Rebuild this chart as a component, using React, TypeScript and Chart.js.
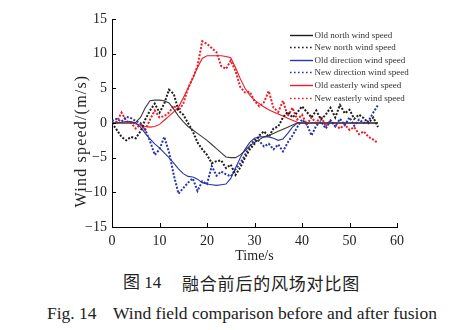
import React, { useEffect, useRef } from "react";
import { Chart, registerables } from "chart.js";

Chart.register(...registerables);

// ---- data ----
const times = [
  0, 1, 2, 3, 4, 5, 6, 7, 8, 9, 10, 11, 12, 13, 14, 15, 16, 17, 18, 19,
  20, 21, 22, 23, 24, 25, 26, 27, 28, 29, 30, 31, 32, 33, 34, 35, 36, 37, 38, 39,
  40, 41, 42, 43, 44, 45, 46, 47, 48, 49, 50, 51, 52, 53, 54, 55, 56,
];

const oldNorth = [
  0, 0, 0, 0, 0, 0.1, 0.8, 2.2, 3.2, 3.3,
  3.3, 3.2, 2.9, 2.0, 1.0, 0.2, -0.5, -1.0, -1.5, -2.0,
  -2.5, -3.1, -3.7, -4.3, -4.9, -5.0, -5.0, -4.6, -4.0, -3.3,
  -2.8, -2.4, -2.0, -1.8, -1.5, -1.2, -0.9, -0.6, -0.3, 0,
  0, 0, 0, 0, 0, 0, 0, 0, 0, 0,
  0, 0, 0, 0, 0, 0, 0,
];

const newNorth = [
  0, -1.0, -2.0, -2.5, -2.0, -2.2, -1.2, 0.5, 1.8, 2.8,
  1.5, 2.8, 4.8, 4.2, 1.8, 1.2, 0.0, -1.2, -2.8, -3.8,
  -4.6, -5.8, -5.5, -5.4, -6.5, -6.0, -7.5, -6.4, -5.0, -3.8,
  -3.0, -1.8, -1.2, -2.0, -0.8, -0.5, 0.8, 1.6, 0.8, 1.5,
  2.4, 1.6, 0.8, 1.8, 0.5, 1.2, 2.2, 0.8, 2.6, 1.4,
  1.9, 0.6, 1.2, 0.7, 0.0, 0.8, -0.6,
];

const oldDirection = [
  0, 0, 0.1, 0.2, 0.2, 0, -0.6, -1.5, -2.3, -3.0,
  -3.6, -4.3, -5.0, -5.8, -6.6, -7.3, -7.7, -7.8, -8.1, -8.6,
  -8.8, -8.9, -9.0, -8.9, -8.8, -8.0, -6.5, -5.0, -3.8, -2.8,
  -2.2, -2.0, -2.0, -2.0, -2.2, -2.5, -2.3, -1.5, -0.6, 0,
  0, 0, 0, 0, 0, 0, 0, 0, 0, 0,
  0, 0, 0, 0, 0, 0, 0,
];

const newDirection = [
  0.3, 0.6, 0.2, 0.9, 0.7, 0.3, 0.0, -1.0, -2.6, -4.6,
  -3.8, -2.0, -4.2, -7.5, -10.2, -9.4, -8.6, -8.0, -9.8, -8.4,
  -8.8, -6.2, -7.6, -7.0, -7.4, -7.7, -6.7, -5.8, -4.6, -3.4,
  -2.4, -2.6, -3.4, -3.0, -3.8, -3.1, -4.1, -2.8, -1.8, -0.6,
  0.5, -0.2, -1.8, -0.4, 0.2, -0.8, 0.3, -0.5, 0.6, -0.3,
  0.8, -0.4, 0.5, 0.0, 0.3, 1.5, 2.6,
];

const oldEasterly = [
  0, 0, 0, 0, 0, -0.1, -0.3, -0.5, -0.6, -0.5,
  -0.2, 0.4, 1.0, 1.6, 2.3, 3.6, 5.0, 6.4, 8.0, 9.3,
  9.7, 9.7, 9.7, 9.7, 9.6, 9.4, 8.0, 6.4, 5.0, 4.0,
  3.3, 2.8, 2.3, 1.9, 1.6, 1.3, 1.0, 0.7, 0.4, 0.1,
  0, 0, 0, 0, 0, 0, 0, 0, 0, 0,
  0, 0, 0, 0, 0, 0, 0,
];

const newEasterly = [
  0, 0.2, 1.5, 0.3, 0.0, -0.8, -0.2, -1.0, 0.5, 1.8,
  0.8, 1.0, 1.5, 2.5, 1.8, 2.8, 5.0, 6.5, 8.2, 11.8,
  11.4, 10.8, 10.2, 8.2, 7.8, 9.0, 7.5, 5.2, 4.4, 4.5,
  3.2, 2.4, 3.0, 4.6, 2.2, 1.6, 3.2, 1.0, 2.2, 0.5,
  1.2, -0.2, 0.8, 0.0, 1.0, -0.5, 0.4, -0.3, -0.8, -0.2,
  -1.0, -0.6, -1.6, -1.2, -2.0, -2.4, -2.9,
];

const seriesLabels = [
  "Old north wind speed",
  "New north wind speed",
  "Old direction wind speed",
  "New direction wind speed",
  "Old easterly wind speed",
  "New easterly wind speed",
];

const xTicks = [0, 10, 20, 30, 40, 50, 60];
const yTicks = [-15, -10, -5, 0, 5, 10, 15];
const xTitle = "Time/s";
const yTitle = "Wind speed/(m/s)";
const captionZhNo = "图 14";
const captionZh = "融合前后的风场对比图";
const captionEnNo = "Fig. 14";
const captionEn = "Wind field comparison before and after fusion";

// ---- styles ----
const BLACK = "#1c1c1c";
const BLUE = "#2a36a6";
const RED = "#ee1a26";
const SERIF = '"Liberation Serif", "Times New Roman", serif';
const DOT = [2, 1.6];

const seriesValues = [oldNorth, newNorth, oldDirection, newDirection, oldEasterly, newEasterly];
const seriesColors = ["#3a3a3a", BLACK, BLUE, BLUE, RED, RED];
const seriesDashed = [false, true, false, true, false, true];

const decorPlugin = {
  id: "decor",
  afterDraw(chart: any) {
    const { ctx, chartArea, scales } = chart;
    const xs = scales.x;
    const ys = scales.y;
    ctx.save();
    // inward tick marks
    ctx.strokeStyle = "#000";
    ctx.lineWidth = 1;
    xTicks.forEach((v) => {
      const px = Math.round(xs.getPixelForValue(v)) + 0.5;
      ctx.beginPath();
      ctx.moveTo(px, chartArea.bottom);
      ctx.lineTo(px, chartArea.bottom - 4);
      ctx.stroke();
    });
    yTicks.forEach((v) => {
      const py = Math.round(ys.getPixelForValue(v)) + 0.5;
      ctx.beginPath();
      ctx.moveTo(chartArea.left, py);
      ctx.lineTo(chartArea.left + 4, py);
      ctx.stroke();
    });

    // y axis title
    ctx.save();
    ctx.translate(82, 141);
    ctx.rotate(-Math.PI / 2);
    ctx.font = `16px ${SERIF}`;
    try {
      (ctx as any).letterSpacing = "1.2px";
    } catch (e) {}
    ctx.fillStyle = "#222";
    ctx.textAlign = "center";
    ctx.textBaseline = "middle";
    ctx.fillText(yTitle, 0, 0);
    ctx.restore();

    // legend
    const lx0 = 290;
    const lx1 = 313;
    const ty0 = 34.5;
    const dy = 12.6;
    ctx.font = `9px ${SERIF}`;
    ctx.textAlign = "left";
    ctx.textBaseline = "middle";
    seriesLabels.forEach((lab, i) => {
      const y = Math.round(ty0 + i * dy) + 0.5;
      ctx.strokeStyle = i === 0 ? BLACK : seriesColors[i];
      ctx.lineWidth = seriesDashed[i] ? 1.6 : 1.4;
      ctx.setLineDash(seriesDashed[i] ? [1.6, 2.4] : []);
      ctx.beginPath();
      ctx.moveTo(lx0, y);
      ctx.lineTo(lx1, y);
      ctx.stroke();
      ctx.setLineDash([]);
      ctx.fillStyle = "#333";
      ctx.fillText(lab, lx1 + 1.5, y);
    });
    ctx.restore();
  },
};

function ChartCanvas() {
  const ref = useRef<HTMLCanvasElement | null>(null);
  useEffect(() => {
    if (!ref.current) return;
    const datasets = seriesLabels.map((label, i) => ({
      label,
      data: times.map((t, k) => ({ x: t, y: seriesValues[i][k] })),
      borderColor: seriesColors[i],
      backgroundColor: seriesColors[i],
      borderWidth: seriesDashed[i] ? 2 : 1.1,
      borderDash: seriesDashed[i] ? DOT : [],
      pointRadius: 0,
      tension: 0,
      fill: false,
    }));
    const chart = new Chart(ref.current, {
      type: "line",
      data: { datasets },
      options: {
        animation: false,
        responsive: false,
        devicePixelRatio: 1,
        layout: { padding: { left: 0, right: 56, top: 19, bottom: 0 } },
        plugins: { legend: { display: false }, tooltip: { enabled: false } },
        scales: {
          x: {
            type: "linear",
            min: 0,
            max: 60,
            ticks: {
              stepSize: 10,
              padding: 6,
              color: "#222",
              font: { family: SERIF, size: 14 },
            },
            grid: { display: false, drawTicks: false },
            border: { display: true, color: "#000", width: 1 },
            title: {
              display: true,
              text: xTitle,
              color: "#222",
              font: { family: SERIF, size: 14 },
              padding: { top: 0, bottom: 5 },
            },
            afterFit: (s: any) => {
              s.height = 43;
            },
          },
          y: {
            type: "linear",
            min: -15,
            max: 15,
            ticks: {
              stepSize: 5,
              padding: 5,
              color: "#222",
              font: { family: SERIF, size: 14 },
              callback: (v: any) => (Number(v) < 0 ? "\u2212" + Math.abs(Number(v)) : String(v)),
            },
            grid: { display: false, drawTicks: false },
            border: { display: true, color: "#000", width: 1 },
            afterFit: (s: any) => {
              s.width = 112;
            },
          },
        },
      },
      plugins: [decorPlugin],
    });
    return () => chart.destroy();
  }, []);
  return (
    <canvas
      ref={ref}
      width={453}
      height={270}
      style={{ position: "absolute", left: 0, top: 0, width: 453, height: 270 }}
    />
  );
}

export default function App() {
  const zh: React.CSSProperties = {
    position: "absolute",
    top: 273,
    lineHeight: "20px",
    fontSize: 17,
    color: "#222",
    whiteSpace: "pre",
    fontFamily: `"Liberation Serif", "Noto Sans CJK SC", serif`,
  };
  const en: React.CSSProperties = {
    position: "absolute",
    top: 302,
    lineHeight: "22px",
    fontSize: 17.5,
    color: "#222",
    whiteSpace: "pre",
    fontFamily: SERIF,
  };
  return (
    <div
      style={{
        position: "absolute",
        left: 0,
        top: 0,
        width: 453,
        height: 330,
        background: "#fff",
        overflow: "hidden",
      }}
    >
      <ChartCanvas />
      <div style={{ ...zh, left: 123 }}>{captionZhNo}</div>
      <div style={{ ...zh, left: 182, letterSpacing: "0.8px", fontFamily: '"Noto Sans CJK SC", sans-serif' }}>
        {captionZh}
      </div>
      <div style={{ ...en, left: 47 }}>{captionEnNo}</div>
      <div style={{ ...en, left: 113 }}>{captionEn}</div>
    </div>
  );
}
